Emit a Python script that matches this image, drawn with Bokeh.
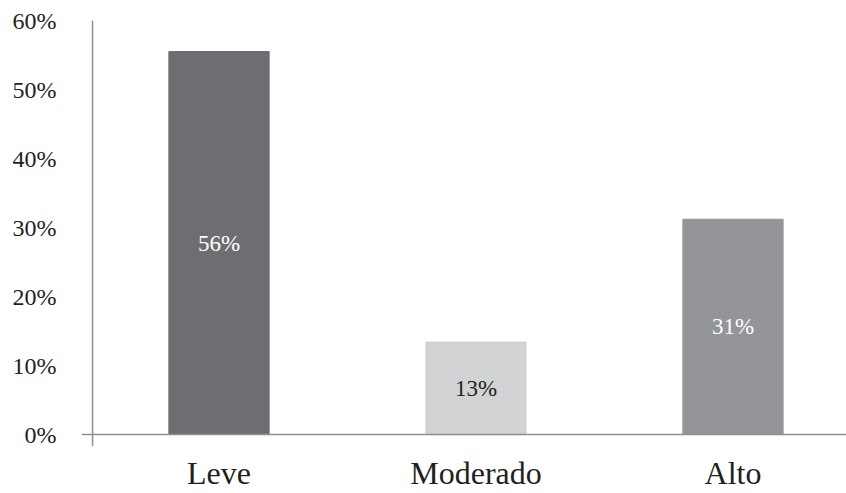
from bokeh.plotting import figure
from bokeh.models import ColumnDataSource, Span, FixedTicker, Range1d
from bokeh.core.properties import value
from bokeh.embed import file_html
from bokeh.resources import INLINE

categories = ["Leve", "Moderado", "Alto"]
values = [55.5, 13.4, 31.2]
labels = ["56%", "13%", "31%"]
bar_colors = ["#6d6e71", "#d1d3d4", "#939598"]
label_colors = ["#ffffff", "#231f20", "#ffffff"]
y_ticks = [0, 10, 20, 30, 40, 50, 60]

FONT = "Liberation Serif"
xs = list(range(len(categories)))

src = ColumnDataSource(dict(
    x=xs, top=values, color=bar_colors,
    mid=[v / 2 for v in values], label=labels, lcolor=label_colors,
))

p = figure(frame_width=765, frame_height=426, output_backend="svg", toolbar_location=None,
           x_range=Range1d(-0.535, 2.4416), y_range=Range1d(-1.739, 60),
           min_border_left=81, min_border_right=0, min_border_top=20, min_border_bottom=47)
p.outline_line_color = None
p.grid.visible = False
p.background_fill_color = "white"
p.border_fill_color = "white"

p.vbar(x="x", top="top", bottom=0, width=0.39, color="color", source=src)
p.text(x="x", y="mid", text="label", text_color="lcolor", source=src,
       text_align="center", text_baseline="middle",
       text_font=value(FONT), text_font_size="23px")

p.add_layout(Span(location=0, dimension="width", line_color="#8f8f8f", line_width=1.5))
p.add_layout(Span(location=-0.492, dimension="height", line_color="#8f8f8f", line_width=1.5))

ya = p.yaxis[0]
ya.ticker = FixedTicker(ticks=y_ticks)
ya.major_label_overrides = {t: f"{t}%" for t in y_ticks}
ya.axis_line_color = None
ya.major_tick_line_color = None
ya.minor_tick_line_color = None
ya.major_label_text_font = FONT
ya.major_label_text_font_size = "24px"
ya.major_label_text_color = "#231f20"
ya.major_label_standoff = 19

xa = p.xaxis[0]
xa.ticker = FixedTicker(ticks=xs)
xa.major_label_overrides = {i: c for i, c in zip(xs, categories)}
xa.axis_line_color = None
xa.major_tick_line_color = None
xa.minor_tick_line_color = None
xa.major_label_text_font = FONT
xa.major_label_text_font_size = "32px"
xa.major_label_text_color = "#231f20"
xa.major_label_standoff = 2

open("out.html", "w").write(file_html(p, INLINE))
